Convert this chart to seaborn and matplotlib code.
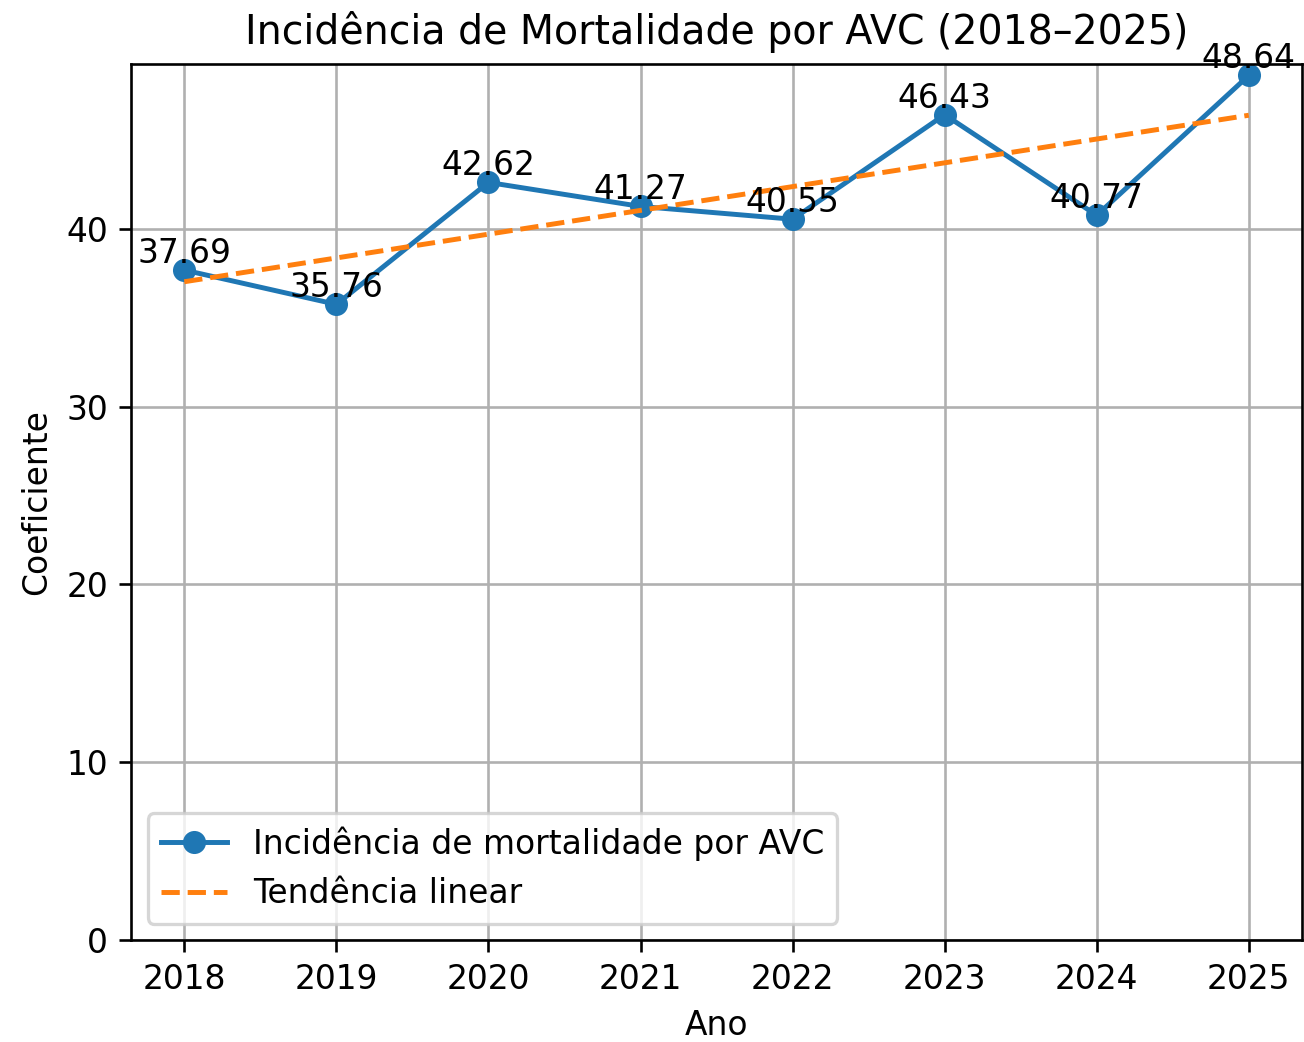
import matplotlib
matplotlib.use("Agg")
import matplotlib.pyplot as plt
import numpy as np
import pandas as pd
import seaborn as sns

# Data
anos = [2018, 2019, 2020, 2021, 2022, 2023, 2024, 2025]
coeficientes = [37.69, 35.76, 42.62, 41.27, 40.55, 46.43, 40.77, 48.64]

df = pd.DataFrame({"Ano": anos, "Coeficiente": coeficientes})

# Linear trend
slope, intercept = np.polyfit(df["Ano"], df["Coeficiente"], 1)
df["Tendencia"] = slope * df["Ano"] + intercept

dpi = 237
fig = plt.figure(figsize=(1304 / dpi, 1042 / dpi), dpi=dpi)
ax = fig.add_axes([0.1005, 0.0979, 0.898, 0.8407])

sns.lineplot(data=df, x="Ano", y="Coeficiente", marker="o", markersize=6,
             markeredgewidth=1, markeredgecolor="#1f77b4", color="#1f77b4",
             linewidth=1.5, label="Incidência de mortalidade por AVC", ax=ax)
sns.lineplot(data=df, x="Ano", y="Tendencia", linestyle="--", color="#ff7f0e",
             linewidth=1.5, label="Tendência linear", ax=ax)

for a, c in zip(anos, coeficientes):
    ax.text(a, c, f"{c:.2f}", ha="center", va="bottom", fontsize=10)

ax.set_ylim(0, None)
ax.set_xticks(anos)
ax.set_title("Incidência de Mortalidade por AVC (2018–2025)", fontsize=12)
ax.set_xlabel("Ano")
ax.set_ylabel("Coeficiente")
ax.grid(True, color="#b0b0b0", linewidth=0.8)
ax.set_axisbelow(True)
ax.legend(loc="lower left")

fig.savefig("out.png", dpi=dpi)
